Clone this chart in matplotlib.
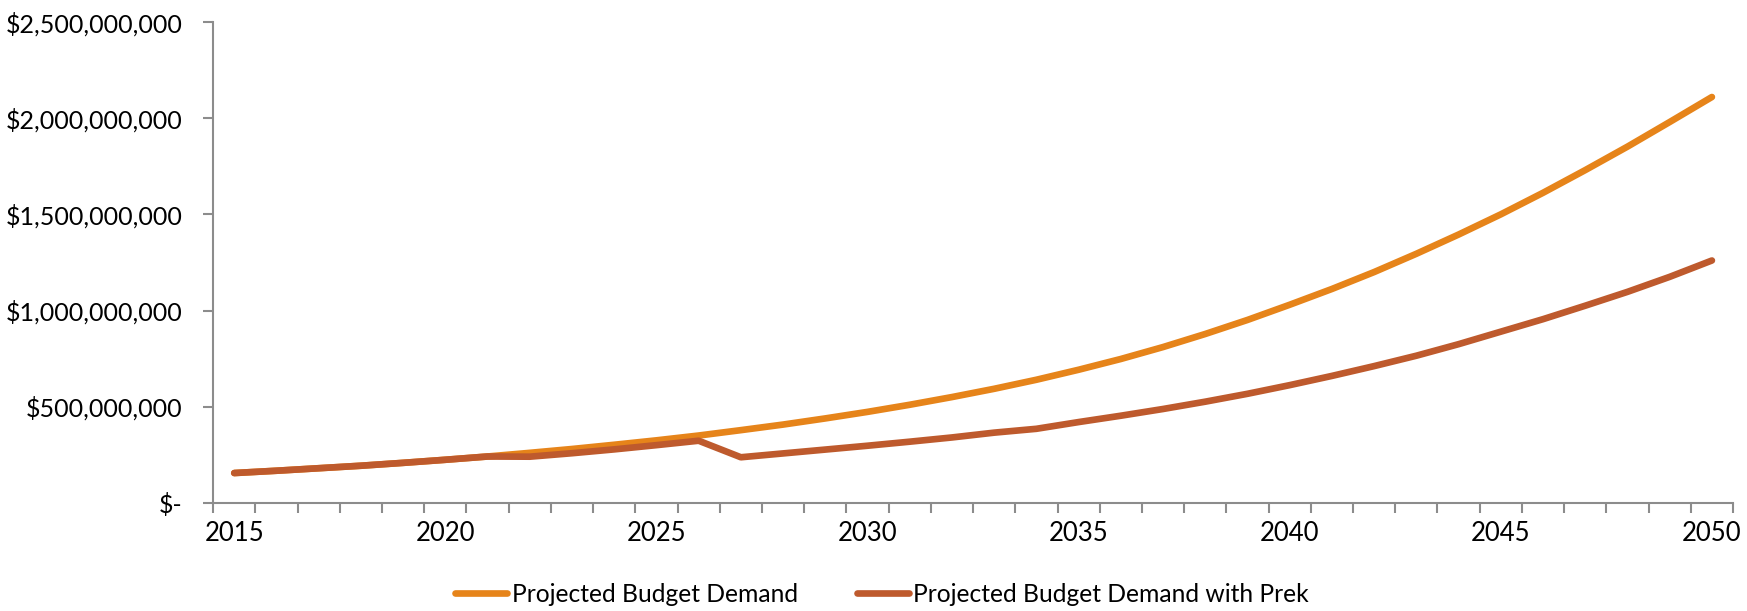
import numpy as np
import matplotlib.pyplot as plt
from matplotlib.ticker import FuncFormatter, MultipleLocator

# Budget projections, 2015-2050 (dollars in millions)
years = list(range(2015, 2051))

budget = [155, 167, 180, 193, 208, 224, 241, 260, 280, 302,
          325, 350, 378, 407, 439, 473, 510, 550, 593, 640,
          692, 748, 810, 878, 951, 1030, 1112, 1200, 1295, 1395,
          1500, 1612, 1730, 1852, 1980, 2110]

budget_prek = [155, 167, 180, 193, 208, 224, 241, 240, 258, 278,
               300, 323, 237, 257, 277, 297, 318, 340, 365, 385,
               420, 453, 488, 526, 567, 612, 660, 711, 765, 825,
               890, 955, 1025, 1097, 1175, 1260]

labels = ["Projected Budget Demand", "Projected Budget Demand with Prek"]
colors = ["#E6841A", "#BE5A2D"]

plt.rcParams['font.family'] = ['Lato', 'DejaVu Sans']

fig = plt.figure(figsize=(17.47, 6.11), dpi=100)
ax = fig.add_axes([0.122, 0.177, 0.870, 0.787])

for vals, lab, col in zip([budget, budget_prek], labels, colors):
    ax.plot(years, np.array(vals) * 1e6, color=col, lw=4.8, label=lab,
            solid_capstyle='round', solid_joinstyle='round')

ax.set_xlim(2014.5, 2050.5)
ax.set_ylim(0, 2.5e9)

ax.yaxis.set_major_locator(MultipleLocator(5e8))
ax.yaxis.set_major_formatter(FuncFormatter(
    lambda v, p: "$-" if v == 0 else f"${v:,.0f}"))

ax.set_xticks(range(2015, 2051, 5))
ax.set_xticks(np.arange(2014.5, 2051, 1), minor=True)
ax.tick_params(axis='x', which='major', length=0, pad=13, labelsize=18.5)
ax.tick_params(axis='x', which='minor', length=7, width=1.5, color='#8C8C8C')
ax.tick_params(axis='y', which='major', length=7, width=1.5, color='#8C8C8C',
               labelsize=18, pad=15)

for s in ['top', 'right']:
    ax.spines[s].set_visible(False)
for s in ['left', 'bottom']:
    ax.spines[s].set_color('#8C8C8C')
    ax.spines[s].set_linewidth(1.5)

h, l = ax.get_legend_handles_labels()
fig.legend(h, l, loc='center', bbox_to_anchor=(0.505, 0.027), ncol=2,
           frameon=False, fontsize=17.7, handlelength=2.1, handletextpad=0.2,
           columnspacing=2.4)

fig.savefig("out.png", dpi=100)
